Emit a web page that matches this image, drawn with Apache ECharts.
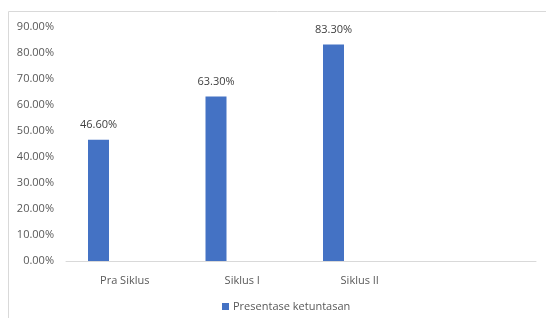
<!DOCTYPE html>
<html>
<head>
<meta charset="utf-8">
<script src="https://cdn.jsdelivr.net/npm/echarts@6/dist/echarts.min.js"></script>
<style>
  html, body { margin: 0; padding: 0; background: #fff; }
  #chart { width: 546px; height: 318px; }
</style>
</head>
<body>
<div id="chart"></div>
<script>
var categories = ['Pra Siklus', 'Siklus I', 'Siklus II', ''];
var ketuntasan = [46.6, 63.3, 83.3, null];
var emptySeries = [null, null, null, null];
var yTicks = { min: 0, max: 90, interval: 10 };

var chart = echarts.init(document.getElementById('chart'), null, { renderer: 'canvas' });

var option = {
  animation: false,
  textStyle: { fontFamily: 'Open Sans' },
  graphic: [{
    type: 'rect',
    shape: { x: 8.5, y: 11.5, width: 600, height: 400 },
    style: { fill: 'none', stroke: '#d9d9d9', lineWidth: 1 },
    silent: true
  }],
  grid: {
    left: 66,
    right: 10,
    top: 27,
    bottom: 57,
    containLabel: false
  },
  legend: {
    data: ['Presentase ketuntasan'],
    left: 217,
    top: 296,
    itemWidth: 7,
    itemHeight: 7,
    itemGap: 5,
    icon: 'rect',
    textStyle: { color: '#595959', fontSize: 11, padding: [0, 0, 0, -1] }
  },
  xAxis: {
    type: 'category',
    data: categories,
    axisLine: { lineStyle: { color: '#d9d9d9' } },
    axisTick: { show: false },
    axisLabel: { color: '#595959', fontSize: 11, margin: 14 }
  },
  yAxis: {
    type: 'value',
    min: yTicks.min,
    max: yTicks.max,
    interval: yTicks.interval,
    axisLine: { show: false },
    axisTick: { show: false },
    splitLine: { show: false },
    axisLabel: {
      color: '#595959',
      fontSize: 11,
      margin: 12,
      formatter: function (v) { return v.toFixed(2) + '%'; }
    }
  },
  series: [{
    name: 'Presentase ketuntasan',
    type: 'bar',
    data: ketuntasan,
    barWidth: 21,
    barGap: '150%',
    itemStyle: { color: '#4472C4' },
    label: {
      show: true,
      position: 'top',
      distance: 9,
      color: '#404040',
      fontSize: 11,
      formatter: function (p) { return p.value.toFixed(2) + '%'; }
    }
  }, {
    name: 'kosong',
    type: 'bar',
    data: emptySeries,
    barWidth: 21
  }]
};

chart.setOption(option);
</script>
</body>
</html>
